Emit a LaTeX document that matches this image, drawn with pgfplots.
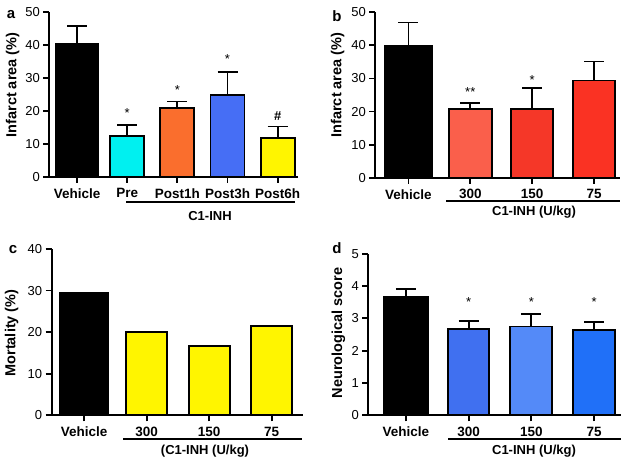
\documentclass[border=0pt]{standalone}
\usepackage{fontspec}
\setmainfont{Liberation Sans}
\usepackage{pgfplots}
\pgfplotsset{compat=1.18}
\definecolor{cyanbar}{RGB}{0,240,240}
\definecolor{orangebar}{RGB}{250,110,45}
\definecolor{bluebar}{RGB}{70,110,245}
\definecolor{yellowbar}{RGB}{255,245,0}
\definecolor{redA}{RGB}{250,95,75}
\definecolor{redB}{RGB}{245,55,40}
\definecolor{redC}{RGB}{250,50,35}
\definecolor{blueA}{RGB}{64,112,240}
\definecolor{blueB}{RGB}{84,138,248}
\definecolor{blueC}{RGB}{32,112,248}
\newcommand{\fs}{\fontsize{13}{15}\selectfont}
\newcommand{\fx}{\fontsize{13.5}{15}\selectfont}
\newcommand{\fl}{\fontsize{14.5}{16}\selectfont}
\pgfplotsset{
  panel/.style={
    scale only axis,
    axis lines=left,
    axis line style={-, line width=1.8pt, black},
    tick align=outside,
    major tick length=6pt,
    tick style={line width=1.8pt, black},
    ymin=0,
    clip=false,
    /pgf/number format/assume math mode=true,
    yticklabel style={font=\fs},
    xticklabel style={font=\fx\bfseries, yshift=-2pt},
    ylabel style={font=\fl\bfseries, anchor=center},
  },
  bar/.style={ybar, bar shift=0pt, draw=black, line width=1.8pt,
    error bars/y dir=plus, error bars/y explicit,
    error bars/error bar style={line width=1.8pt, black},
    error bars/error mark options={rotate=90, line width=1.8pt, black, mark size=10pt}},
}
\begin{document}
\begin{tikzpicture}[x=1pt,y=1pt]
\useasboundingbox (0,0) rectangle (632,466);
% ---------- panel a ----------
\begin{axis}[panel, at={(49.3pt,289.3pt)}, anchor=south west,
  width=248.4pt, height=165pt,
  xmin=-0.554, xmax=4.4, ymax=50, ytick={0,10,20,30,40,50},
  xtick={0,1,2,3,4}, xticklabels={Vehicle,Pre,Post1h,Post3h,Post6h},
  ylabel={Infarct area (\%)},
  ylabel style={at={(axis description cs:-0.148,0.556)}}]
\addplot[bar, fill=black, bar width=43pt] coordinates {(0,40.2) +- (0,5.5)};
\addplot[bar, fill=cyanbar, bar width=34pt] coordinates {(1,12.4) +- (0,3.2)};
\addplot[bar, fill=orangebar, bar width=34pt] coordinates {(2,20.9) +- (0,1.9)};
\addplot[bar, fill=bluebar, bar width=34pt] coordinates {(3,24.7) +- (0,7.1)};
\addplot[bar, fill=yellowbar, bar width=34pt] coordinates {(4,11.8) +- (0,3.4)};
\node[font=\fs] at (axis cs:1,19.2) {*};
\node[font=\fs] at (axis cs:2,26.2) {*};
\node[font=\fs] at (axis cs:3,35.6) {*};
\node[font=\fs\bfseries] at (axis cs:4,18.4) {\#};
\end{axis}
% ---------- panel b ----------
\begin{axis}[panel, at={(375.3pt,288.3pt)}, anchor=south west,
  width=244.7pt, height=165.4pt,
  xmin=-0.535, xmax=3.42, ymax=50, ytick={0,10,20,30,40,50},
  xtick={0,1,2,3}, xticklabels={Vehicle,300,150,75},
  ylabel={Infarct area (\%)},
  ylabel style={at={(axis description cs:-0.154,0.56)}}]
\addplot[bar, fill=black, bar width=47pt] coordinates {(0,39.9) +- (0,7.0)};
\addplot[bar, fill=redA, bar width=43pt] coordinates {(1,20.8) +- (0,1.9)};
\addplot[bar, fill=redB, bar width=42pt] coordinates {(2,20.8) +- (0,6.2)};
\addplot[bar, fill=redC, bar width=42pt] coordinates {(3,29.4) +- (0,5.7)};
\node[font=\fs] at (axis cs:1,26.0) {**};
\node[font=\fs] at (axis cs:2,29.4) {*};
\end{axis}
% ---------- panel c ----------
\begin{axis}[panel, at={(51.7pt,50.7pt)}, anchor=south west,
  width=251.3pt, height=166.3pt,
  xmin=-0.517, xmax=3.5, ymax=40, ytick={0,10,20,30,40},
  xtick={0,1,2,3}, xticklabels={Vehicle,300,150,75},
  ylabel={Mortality (\%)},
  ylabel style={at={(axis description cs:-0.159,0.495)}}]
\addplot[bar, fill=black, bar width=49pt] coordinates {(0,29.4)};
\addplot[bar, fill=yellowbar, bar width=41pt] coordinates {(1,20.0)};
\addplot[bar, fill=yellowbar, bar width=41pt] coordinates {(2,16.7)};
\addplot[bar, fill=yellowbar, bar width=41pt] coordinates {(3,21.4)};
\end{axis}
% ---------- panel d ----------
\begin{axis}[panel, at={(368.3pt,50.7pt)}, anchor=south west,
  width=252.7pt, height=161.6pt,
  xmin=-0.6, xmax=3.43, ymax=5, ytick={0,1,2,3,4,5},
  xtick={0,1,2,3}, xticklabels={Vehicle,300,150,75},
  ylabel={Neurological score},
  ylabel style={at={(axis description cs:-0.118,0.509)}}]
\addplot[bar, fill=black, bar width=44pt] coordinates {(0,3.66) +- (0,0.25)};
\addplot[bar, fill=blueA, bar width=41pt] coordinates {(1,2.68) +- (0,0.24)};
\addplot[bar, fill=blueB, bar width=42pt] coordinates {(2,2.75) +- (0,0.39)};
\addplot[bar, fill=blueC, bar width=42pt] coordinates {(3,2.63) +- (0,0.26)};
\node[font=\fs] at (axis cs:1,3.5) {*};
\node[font=\fs] at (axis cs:2,3.5) {*};
\node[font=\fs] at (axis cs:3,3.5) {*};
\end{axis}
% ---------- group lines and labels ----------
\draw[line width=1.8pt] (126,263.7) -- (295,263.7);
\node[font=\fs\bfseries] at (210,250.3) {C1-INH};
\draw[line width=1.8pt] (446,265) -- (620,265);
\node[font=\fs\bfseries] at (534,253.7) {C1-INH (U/kg)};
\draw[line width=1.8pt] (123,27) -- (302,27);
\node[font=\fs\bfseries] at (205,14.7) {(C1-INH (U/kg)};
\draw[line width=1.8pt] (448,27) -- (621,27);
\node[font=\fs\bfseries] at (534,14.7) {C1-INH (U/kg)};
% ---------- panel letters ----------
\node[font=\fontsize{15}{17}\selectfont\bfseries] at (11,451) {a};
\node[font=\fontsize{15}{17}\selectfont\bfseries] at (337,450) {b};
\node[font=\fontsize{15}{17}\selectfont\bfseries] at (13,216) {c};
\node[font=\fontsize{15}{17}\selectfont\bfseries] at (337,218) {d};
\end{tikzpicture}
\end{document}
